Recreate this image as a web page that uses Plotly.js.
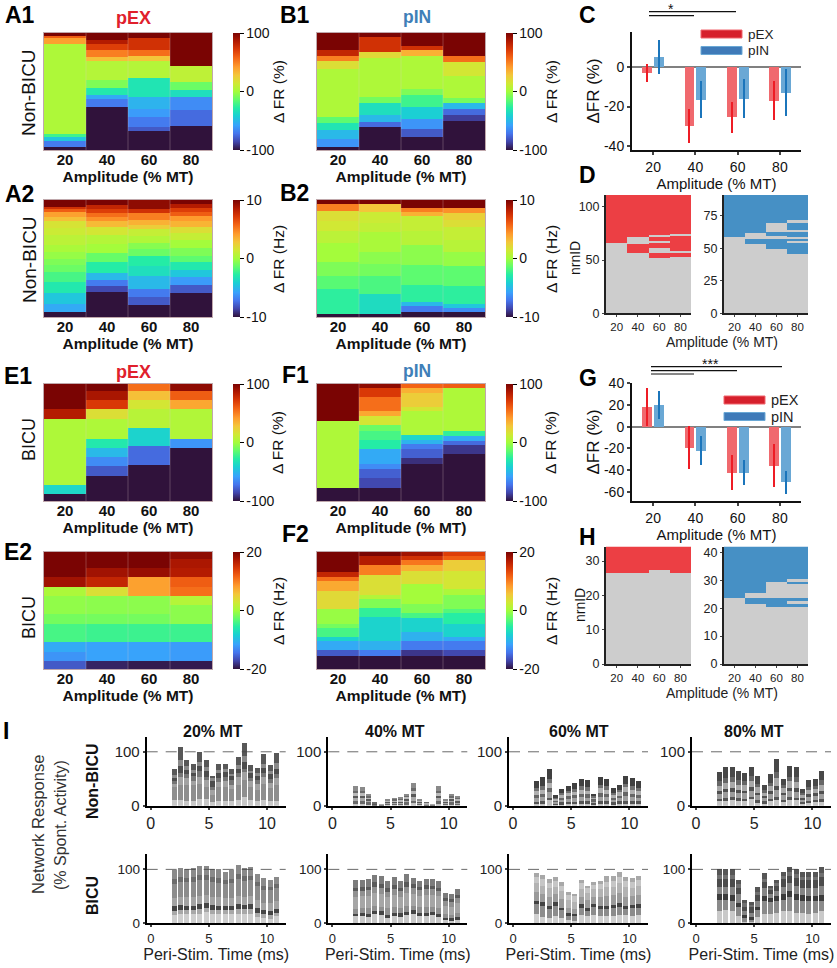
<!DOCTYPE html>
<html>
<head>
<meta charset="utf-8">
<script src="https://cdn.plot.ly/plotly-3.0.1.min.js"></script>
<style>body{margin:0;background:#fff}</style>
</head>
<body>
<div id="plot" style="width:837px;height:968px"></div>
<script>
// Heatmap columns: runs of [rows, value] from top to bottom, 88 rows per column
const amplitudes = [20, 40, 60, 80]

const a1Runs = [
  [[2,100],[2,60],[4,40],[68,3],[2,-22],[3,-45],[5,-70],[2,-100]],
  [[5,100],[3,85],[5,70],[5,50],[3,30],[14,5],[6,-8],[6,-30],[3,-55],[6,-70],[32,-100]],
  [[4,100],[9,75],[4,55],[4,28],[13,5],[14,-32],[9,-52],[6,-60],[8,-70],[3,-80],[14,-100]],
  [[25,100],[12,8],[6,-12],[5,-35],[10,-65],[12,-75],[18,-100]]
]
const a2Runs = [
  [[5,10],[2,7.5],[2,6],[4,4],[3,3],[5,1.6],[5,1.2],[8,0.7],[5,0.2],[5,-0.3],[5,-0.8],[5,-1.2],[8,-2],[8,-3],[8,-4.5],[6,-5.5],[4,-10]],
  [[4,10],[3,8],[3,7],[3,5.5],[3,4.5],[4,3.2],[6,1.5],[7,0.5],[7,0],[7,-1.3],[8,-2.8],[5,-5],[5,-7],[4,-8.5],[19,-10]],
  [[7,9.5],[3,7.5],[5,5],[4,3.5],[3,2.5],[5,1],[5,0.4],[5,-0.6],[5,-1.2],[8,-2.8],[7,-3.5],[10,-5],[6,-7],[6,-8],[9,-10]],
  [[3,10],[3,8.5],[3,7],[3,6],[4,4.2],[4,3.4],[5,1.8],[5,1],[6,0],[6,-0.8],[5,-1.5],[6,-3],[5,-4.5],[6,-6],[6,-8],[18,-10]]
]
const b1Runs = [
  [[13,100],[4,80],[4,50],[6,18],[36,3],[5,-15],[5,-32],[7,-50],[6,-62],[2,-100]],
  [[3,100],[11,75],[5,20],[29,3],[5,-10],[9,-35],[5,-50],[4,-75],[17,-100]],
  [[10,100],[3,75],[4,35],[25,3],[5,-8],[9,-22],[9,-42],[7,-62],[6,-80],[10,-100]],
  [[17,100],[5,55],[10,15],[17,3],[4,-10],[4,-50],[5,-75],[4,-88],[22,-100]]
]
const b2Runs = [
  [[3,10],[5,5],[8,1.8],[7,1.4],[9,0.7],[15,0],[10,-0.8],[10,-1.6],[19,-2.6],[2,-10]],
  [[3,10],[6,2.8],[8,1.2],[7,0.9],[15,0.2],[9,-0.5],[9,-1],[14,-1.9],[15,-3.6],[2,-10]],
  [[6,10],[3,5],[3,3.5],[11,1],[11,0.6],[15,-0.5],[15,-1.5],[13,-2.6],[3,-5],[4,-7],[4,-10]],
  [[6,10],[4,4.5],[5,2.4],[5,1.8],[10,1],[9,0.6],[11,-0.3],[15,-1.5],[13,-2.6],[3,-4.5],[3,-6.5],[4,-10]]
]
const e1Runs = [
  [[19,100],[7,85],[50,3],[7,-38],[5,-100]],
  [[5,100],[7,88],[7,72],[7,18],[15,3],[7,-30],[7,-50],[7,-65],[7,-80],[19,-100]],
  [[5,55],[7,30],[7,15],[14,6],[14,-40],[14,-75],[27,-100]],
  [[5,95],[7,60],[7,38],[22,4],[7,-62],[40,-100]]
]
const e2Runs = [
  [[19,20],[7,18],[7,0.5],[14,-0.8],[7,-2],[14,-4],[7,-11],[7,-12.5],[6,-16]],
  [[12,20],[7,18],[7,16],[7,3.5],[14,-1],[7,-2],[14,-4.5],[14,-11.5],[6,-19]],
  [[12,20],[7,18.5],[14,8],[14,-1],[7,-2],[14,-4.5],[14,-11.5],[6,-19.5]],
  [[5,19],[7,17.5],[7,17],[7,12],[7,11],[7,1],[14,-1],[14,-4.5],[14,-12],[6,-19.5]]
]
const f1Runs = [
  [[28,100],[50,3],[10,-100]],
  [[3,95],[7,72],[10,55],[4,38],[7,15],[4,-12],[7,-20],[7,-28],[11,-55],[4,-65],[7,-78],[7,-85],[10,-100]],
  [[3,58],[4,35],[10,25],[3,15],[18,3],[4,-38],[3,-52],[4,-70],[7,-78],[4,-92],[28,-100]],
  [[3,60],[32,3],[4,-25],[4,-55],[3,-75],[7,-90],[35,-100]]
]
const f2Runs = [
  [[15,20],[4,16],[3,11],[7,7.5],[14,4],[11,-0.5],[3,-2],[7,-4],[3,-8],[7,-11],[4,-16],[10,-20]],
  [[3,20],[7,17],[7,10],[15,3.5],[3,1],[7,-1.5],[7,-5],[18,-8],[7,-10.5],[4,-14],[10,-20]],
  [[3,18],[3,15],[4,10.5],[4,7],[10,3.5],[15,0],[7,-1.5],[4,-4],[10,-8],[7,-10.5],[7,-14],[4,-18],[10,-20]],
  [[3,14],[3,12],[8,5],[14,3],[4,0.5],[11,-1.5],[3,-3.5],[8,-5.5],[10,-8],[3,-11],[7,-14],[4,-17],[10,-20]]
]

// Mean change in firing rate and error, panels C and G
const cPex = [-3, -30, -25.5, -17]
const cPexErr = [4.5, 8.7, 8, 10]
const cPin = [5, -16.5, -16, -13]
const cPinErr = [8.7, 9.5, 9.7, 12]
const gPex = [18.5, -19.5, -42.5, -36]
const gPexErr = [17.5, 20, 16, 20]
const gPin = [20, -22, -42.5, -51.5]
const gPinErr = [13, 13, 11.5, 10.5]

// Neuron response maps: runs of [rows, responding] from top to bottom
const dPexRuns = [
  [[46,1],[66,0]],
  [[40,1],[7,0],[8,1],[57,0]],
  [[38,1],[2,0],[4,1],[2,0],[4,1],[5,0],[5,1],[52,0]],
  [[37,1],[2,0],[14,1],[2,0],[4,1],[53,0]]
]
const dPinRuns = [
  [[33,1],[59,0]],
  [[30,1],[4,0],[4,1],[54,0]],
  [[22,1],[7,0],[3,1],[2,0],[8,1],[50,0]],
  [[20,1],[2,0],[5,1],[2,0],[4,1],[1,0],[2,1],[1,0],[9,1],[46,0]]
]
const hPexRuns = [
  [[8,1],[27,0]],
  [[8,1],[27,0]],
  [[7,1],[28,0]],
  [[8,1],[27,0]]
]
const hPinRuns = [
  [[19,1],[24,0]],
  [[17,1],[2,0],[2,1],[22,0]],
  [[13,1],[6,0],[3,1],[21,0]],
  [[12,1],[1,0],[1,1],[5,0],[1,1],[1,0],[1,1],[21,0]]
]

// Panel I: time bins, total per bin and stacked bands (bottom up, top band is what is left)
const timeBins = [2, 2.55, 3.1, 3.65, 4.2, 4.75, 5.3, 5.85, 6.4, 6.95, 7.5, 8.05, 8.6, 9.15, 9.7, 10.25, 10.8]

const nb20Total = [69,109,84,77,100,84,56,77,78,69,91,116,75,70,96,75,97]
const nb20Bands = [[10,24,6,8,3,6],[10,28,16,6,14,10],[9,30,12,8,8,6],[9,30,6,10,6,6],[12,28,14,10,10,8],[12,22,14,6,10,8],[7,12,10,6,10,6],[8,26,10,8,8,6],[8,26,12,8,8,6],[9,22,8,8,8,4],[10,28,16,6,8,8],[16,32,14,6,14,10],[10,24,12,6,8,5],[9,20,12,6,8,5],[10,30,14,6,10,8],[8,24,10,8,8,7],[9,30,12,8,10,10]]
const nb20Greys = ['#c8c8c8','#8e8e8e','#a2a2a2','#757575','#4d4d4d','#8a8a8a','#585858']

const nb40Total = [36,34,22,6,3,12,14,16,22,42,12,7,3,36,12,21,17]
const nb40Bands = [[4,4,6,4,6,4],[3,5,6,4,6,4],[3,3,4,3,3,3],[1,1,1,1,1,1],[1,1,1,0,0,0],[2,2,2,2,2,1],[2,2,2,2,3,2],[2,2,3,2,3,2],[3,3,4,3,4,3],[5,4,7,5,7,5],[2,2,2,2,2,1],[1,1,2,1,1,1],[1,1,1,0,0,0],[4,4,6,4,6,4],[2,2,2,2,2,1],[3,3,4,3,3,3],[2,2,3,3,3,2]]
const nb40Greys = ['#c4c4c4','#6a6a6a','#a8a8a8','#585858','#bababa','#6a6a6a','#8a8a8a']

const nb60Total = [46,53,68,19,31,36,42,50,47,22,53,50,32,39,56,51,45]
const nb60Bands = [[3,4,7,6,7,6],[3,5,8,6,8,7],[10,5,10,7,10,8],[2,3,3,2,3,2],[2,4,5,4,5,4],[3,4,6,5,6,4],[3,4,7,5,7,5],[3,5,8,6,8,6],[3,5,7,6,7,6],[3,3,3,3,4,3],[3,5,9,6,9,6],[3,5,8,6,8,6],[2,4,5,4,5,4],[3,5,6,4,7,4],[4,5,9,7,9,7],[3,5,8,6,8,6],[3,5,7,5,8,5]]
const nb60Greys = ['#c0c0c0','#555555','#a0a0a0','#666666','#b0b0b0','#707070','#404040']

const nb80Total = [62,71,72,64,61,72,55,39,59,87,50,73,72,31,48,50,64]
const nb80Bands = [[8,5,9,5,10,8],[9,5,11,6,12,9],[11,5,10,6,12,9],[9,5,10,5,10,8],[8,5,10,5,10,7],[12,5,11,6,12,9],[5,5,9,5,10,7],[4,4,6,4,6,5],[8,5,9,5,9,7],[10,6,14,7,15,10],[7,4,8,5,8,6],[10,6,11,6,12,9],[10,5,11,6,12,9],[4,3,5,3,5,4],[5,4,8,4,8,6],[6,4,8,5,8,6],[7,5,10,6,11,8]]
const nb80Greys = ['#c6c6c6','#555555','#9c9c9c','#505050','#a8a8a8','#666666','#484848']

const bi20Total = [99,103,101,102,106,106,101,100,96,99,109,103,105,91,84,81,86]
const bi20Bands = [[15,8,9,14,27,9],[17,8,9,14,28,9],[17,8,8,15,28,8],[17,7,9,15,28,9],[18,8,9,15,30,9],[21,8,9,14,29,9],[17,8,9,15,28,8],[17,8,8,15,27,9],[17,7,9,14,26,8],[17,8,8,14,28,8],[18,8,9,16,31,9],[18,8,8,15,29,9],[18,8,9,15,30,8],[12,8,8,15,26,8],[10,7,7,14,24,8],[8,8,7,14,24,7],[13,6,8,14,25,7]]
const bi20Greys = ['#cfcfcf','#a8a8a8','#454545','#a3a3a3','#8c8c8c','#6c6c6c','#8a8a8a']

const bi40Total = [80,80,83,90,87,78,85,78,91,84,78,83,83,78,56,54,63]
const bi40Bands = [[13,5,9,22,10,7],[14,6,8,22,10,7],[12,6,10,23,10,7],[18,5,10,24,11,8],[16,6,9,24,11,7],[9,7,12,20,10,7],[14,6,10,23,11,7],[12,7,10,20,10,6],[15,6,11,25,11,8],[17,7,9,21,11,7],[14,6,10,21,10,6],[14,6,10,23,11,7],[15,6,9,23,10,7],[12,6,11,21,10,6],[6,4,8,15,8,6],[5,4,7,15,8,6],[6,5,9,18,8,6]]
const bi40Greys = ['#c9c9c9','#454545','#8f8f8f','#a6a6a6','#909090','#5a5a5a','#7c7c7c']

const bi60Total = [94,90,82,85,76,58,55,80,70,77,79,87,88,96,85,84,88]
const bi60Bands = [[17,18,7,16,16,12],[11,22,6,15,16,12],[9,18,6,16,16,10],[14,19,6,15,14,10],[9,15,5,16,15,10],[6,8,5,10,14,10],[5,8,4,10,13,10],[15,13,7,14,15,10],[14,9,6,15,13,8],[15,15,6,13,14,8],[14,13,6,15,15,9],[14,12,6,18,17,10],[14,14,6,18,16,10],[16,15,7,18,18,12],[15,12,6,16,18,11],[14,14,6,16,16,10],[15,14,6,17,18,10]]
const bi60Greys = ['#d0d0d0','#8c8c8c','#424242','#9a9a9a','#b3b3b3','#c6c6c6','#a8a8a8']

const bi80Total = [100,100,100,80,44,40,68,93,68,80,95,104,101,96,95,96,104]
const bi80Bands = [[22,22,10,14,14,8],[24,20,10,14,14,8],[22,20,10,16,14,8],[14,16,8,16,12,6],[3,6,6,8,8,6],[2,4,6,8,10,4],[12,12,6,12,10,6],[17,24,10,14,12,6],[17,22,8,8,8,2],[20,22,8,10,10,4],[22,22,10,14,14,6],[22,26,12,14,14,8],[20,24,10,16,14,7],[20,22,10,14,14,6],[18,24,8,16,14,6],[20,22,8,16,14,6],[22,20,10,18,16,7]]
const bi80Greys = ['#c9c9c9','#8a8a8a','#3c3c3c','#858585','#4c4c4c','#707070','#565656']

const W = 837, H = 968
const FONT = '"Liberation Sans", Arial, sans-serif'
const RED = '#e0202c', BLUE = '#3f7fb8'

const turbo = [[0,'#30123b'],[0.07,'#4145ab'],[0.14,'#4675ed'],[0.21,'#39a2fc'],[0.29,'#1bcfd4'],[0.36,'#24eca6'],[0.43,'#61fc6c'],[0.5,'#a4fc3b'],[0.57,'#d1e834'],[0.64,'#f3c63a'],[0.71,'#fe9b2d'],[0.79,'#f36315'],[0.86,'#d93806'],[0.93,'#b11901'],[1,'#7a0403']]

var data = []
var shapes = []
var annotations = []
var layout = {
  width: W, height: H,
  margin: {l: 0, r: 0, t: 0, b: 0},
  paper_bgcolor: 'white', plot_bgcolor: 'white',
  showlegend: false, barmode: 'stack',
  font: {family: FONT, color: '#111'},
  shapes: shapes, annotations: annotations
}
var axisCount = 0

// new x/y axis pair placed by pixel box; returns the trace refs
function addAxes(x0, x1, y0, y1, xOpts, yOpts) {
  axisCount++
  const n = axisCount === 1 ? '' : axisCount
  layout['xaxis' + n] = Object.assign({domain: [x0 / W, x1 / W], anchor: 'y' + n, fixedrange: true, showgrid: false, zeroline: false}, xOpts)
  layout['yaxis' + n] = Object.assign({domain: [1 - y1 / H, 1 - y0 / H], anchor: 'x' + n, fixedrange: true, showgrid: false, zeroline: false}, yOpts)
  return {x: 'x' + n, y: 'y' + n}
}

function text(str, x, y, size, opts) {
  annotations.push(Object.assign({text: str, x: x / W, y: 1 - y / H, xref: 'paper', yref: 'paper', showarrow: false,
    xanchor: 'center', yanchor: 'middle', font: {size: size, family: FONT, color: '#111'}}, opts))
}

// expands [rows, value] runs into z rows, bottom row first
function runsToZ(runs) {
  const cols = runs.map(function (col) {
    var out = []
    col.forEach(function (r) { for (var i = 0; i < r[0]; i++) out.push(r[1]) })
    return out.reverse()
  })
  return cols[0].map(function (_, i) { return cols.map(function (c) { return c[i] }) })
}

function heatPanel(runs, x0, y0, limit, cbTitle) {
  const x1 = x0 + 168, y1 = y0 + 117
  const ax = addAxes(x0, x1, y0, y1, {
    range: [10, 90], tickvals: amplitudes, ticks: '', showline: true, mirror: true, linecolor: '#c0a8ac', linewidth: 1,
    ticklabelstandoff: -4,
    tickfont: {size: 15, family: FONT, weight: 'bold', color: '#111'},
    title: {text: 'Amplitude (% MT)', standoff: 0, font: {size: 15.5, family: FONT, weight: 'bold', color: '#111'}}
  }, {
    range: [-0.5, 87.5], showticklabels: false, ticks: '', showline: true, mirror: true, linecolor: '#c0a8ac', linewidth: 1
  })
  data.push({
    type: 'heatmap', x: amplitudes, z: runsToZ(runs), y0: 0, dy: 1, xaxis: ax.x, yaxis: ax.y,
    colorscale: turbo, zmin: -limit, zmax: limit, hoverinfo: 'skip',
    colorbar: {
      x: (x1 + 21) / W, xanchor: 'left', xpad: 0, y: 1 - (y0 + 58.5) / H, yanchor: 'middle', ypad: 0,
      len: 117 / H, lenmode: 'fraction', thickness: 7, outlinewidth: 0,
      tickvals: [-limit, 0, limit], ticktext: [String(-limit), '0', String(limit)], ticks: 'outside', ticklen: 4, tickcolor: '#000',
      tickfont: {size: 14, family: FONT, color: '#111'}
    }
  })
  // thin pale lines between amplitude columns
  ;[30, 50, 70].forEach(function (v) {
    shapes.push({type: 'line', xref: ax.x, yref: ax.y + ' domain', x0: v, x1: v, y0: 0, y1: 1, line: {color: 'rgba(225,205,205,0.35)', width: 0.8}})
  })
  text('Δ FR (' + (cbTitle) + ')', x1 + 66, y0 + 59, 15.5, {textangle: -90})
}

function barPanel(pex, pexErr, pin, pinErr, y0, y1, yRange, yTicks) {
  const ax = addAxes(632, 801, y0, y1, {
    range: [10, 90], tickvals: amplitudes, ticks: 'outside', ticklen: 3, tickwidth: 1.5, showline: true, linecolor: '#111', linewidth: 2,
    tickfont: {size: 14, family: FONT, color: '#111'},
    title: {text: 'Amplitude (% MT)', standoff: 5, font: {size: 15, family: FONT, color: '#111'}}
  }, {
    range: yRange, tickvals: yTicks, ticktext: yTicks.map(String), ticks: 'outside', ticklen: 3, tickwidth: 1.5, showline: true, linecolor: '#111', linewidth: 2,
    zeroline: true, zerolinecolor: '#808080', zerolinewidth: 1.5,
    tickfont: {size: 14, family: FONT, color: '#111'},
    title: {text: 'ΔFR (%)', standoff: 0, font: {size: 17, family: FONT, color: '#111'}}
  })
  function group(vals, errs, shift, fill, errColor) {
    data.push({
      type: 'bar', x: amplitudes.map(function (a) { return a + shift }), y: vals, width: 4.7, xaxis: ax.x, yaxis: ax.y,
      marker: {color: fill, line: {width: 0}}, hoverinfo: 'skip',
      error_y: {type: 'data', array: errs, visible: true, color: errColor, thickness: 2, width: 0}
    })
  }
  group(pex, pexErr, -2.8, '#f0696e', '#ee1c25')
  group(pin, pinErr, 2.8, '#6aa8d5', '#1b75bb')
}

function legendKey(x, y, fill, edge, label, size) {
  shapes.push({type: 'rect', xref: 'paper', yref: 'paper', x0: x / W, x1: (x + 41) / W, y0: 1 - y / H, y1: 1 - (y + 8) / H, fillcolor: fill, line: {color: edge, width: 1}})
  text(label, x + 45, y + 4, size, {xanchor: 'left', font: {size: size, family: FONT, color: '#222'}})
}

function sigLine(x0, x1, y) {
  shapes.push({type: 'line', xref: 'paper', yref: 'paper', x0: x0 / W, x1: x1 / W, y0: 1 - y / H, y1: 1 - y / H, line: {color: '#111', width: 1.2}})
}

function rasterPanel(runs, x0, x1, y0, y1, top, yTicks, color) {
  const ax = addAxes(x0, x1, y0, y1, {
    range: [10, 90], tickvals: amplitudes, ticks: 'outside', ticklen: 2, showline: true, linecolor: '#222', linewidth: 2,
    tickfont: {size: 11.5, family: FONT, color: '#222'}
  }, {
    range: [0, top], tickvals: yTicks, ticks: 'outside', ticklen: 2, showline: true, linecolor: '#222', linewidth: 2,
    tickfont: {size: 12.5, family: FONT, color: '#222'}
  })
  data.push({
    type: 'heatmap', x: amplitudes, z: runsToZ(runs), y0: 0, dy: 1, xaxis: ax.x, yaxis: ax.y, showscale: false,
    colorscale: [[0, '#cdcdcd'], [1, color]], zmin: 0, zmax: 1, hoverinfo: 'skip'
  })
}

function responsePanel(total, bands, greys, x0, y0, big, withTitle) {
  const ax = addAxes(x0, x0 + 139, y0, y0 + 69, {
    range: [-0.35, 11.6], tickvals: [0, 5, 10], ticks: 'outside', ticklen: 2, tickwidth: 1.5, showline: true, linecolor: '#000', linewidth: 2,
    tickfont: {size: big ? 16 : 13, family: FONT, color: '#222'},
    title: withTitle ? {text: 'Peri-Stim. Time (ms)', standoff: 3, font: {size: 16, family: FONT, color: '#222'}} : undefined
  }, {
    range: [0, 128], tickvals: [0, 100], ticks: 'outside', ticklen: 2, tickwidth: 1.5, showline: true, linecolor: '#000', linewidth: 2,
    tickfont: {size: big ? 15 : 13.5, family: FONT, color: '#222'}
  })
  // bands in order, the last one takes what is left of the total
  greys.forEach(function (grey, b) {
    const y = total.map(function (t, i) {
      if (b < bands[i].length) return bands[i][b]
      const used = bands[i].reduce(function (s, v) { return s + v }, 0)
      return Math.max(0, t - used)
    })
    data.push({type: 'bar', x: timeBins, y: y, width: 0.43, xaxis: ax.x, yaxis: ax.y, marker: {color: grey, line: {width: 0}}, hoverinfo: 'skip'})
  })
  shapes.push({type: 'line', xref: ax.x + ' domain', yref: ax.y, x0: 0, x1: 1, y0: 100, y1: 100, line: {color: '#444', width: 0.8, dash: '11px,8px'}})
}

// top-left heatmaps
heatPanel(a1Runs, 44, 33, 100, '%')
heatPanel(a2Runs, 44, 200, 10, 'Hz')
heatPanel(b1Runs, 317, 33, 100, '%')
heatPanel(b2Runs, 317, 200, 10, 'Hz')
heatPanel(e1Runs, 44, 384, 100, '%')
heatPanel(e2Runs, 44, 552, 20, 'Hz')
heatPanel(f1Runs, 317, 384, 100, '%')
heatPanel(f2Runs, 317, 552, 20, 'Hz')

// right column
barPanel(cPex, cPexErr, cPin, cPinErr, 32, 150, [-42, 17.7], [-40, -20, 0])
barPanel(gPex, gPexErr, gPin, gPinErr, 383, 501, [-68.6, 40.3], [-60, -40, -20, 0, 20, 40])
legendKey(701, 30, '#d6202c', '#f0656c', 'pEX', 13.5)
legendKey(701, 46.5, '#3f7ab8', '#6aa8d5', 'pIN', 13.5)
legendKey(724, 396, '#d6202c', '#f0656c', 'pEX', 14.5)
legendKey(724, 412.5, '#3f7ab8', '#6aa8d5', 'pIN', 14.5)
sigLine(649, 736, 11.7)
sigLine(649, 694, 15.7)
text('*', 671, 9, 14)
sigLine(651, 782, 366.7)
sigLine(651, 737, 370.7)
sigLine(651, 694, 374)
text('***', 710, 364, 14)

rasterPanel(dPexRuns, 606, 691, 195, 313.3, 111, [0, 50, 100], '#ec3f44')
rasterPanel(dPinRuns, 724, 808, 195, 313.3, 91, [0, 25, 50, 75], '#4690c5')
rasterPanel(hPexRuns, 606, 691, 546.7, 664, 34.2, [0, 10, 20, 30], '#ec3f44')
rasterPanel(hPinRuns, 724, 808, 546.7, 664, 42, [0, 10, 20, 30, 40], '#4690c5')
text('nrnID', 575, 258, 14, {textangle: -90})
text('nrnID', 580, 605, 14, {textangle: -90})
text('Amplitude (% MT)', 722, 342, 14, {font: {size: 14, family: FONT, color: '#222'}})
text('Amplitude (% MT)', 722, 693, 14, {font: {size: 14, family: FONT, color: '#222'}})

// panel I
const colLefts = [146.7, 328.3, 509, 692]
const topRow = [[nb20Total, nb20Bands, nb20Greys], [nb40Total, nb40Bands, nb40Greys], [nb60Total, nb60Bands, nb60Greys], [nb80Total, nb80Bands, nb80Greys]]
const bottomRow = [[bi20Total, bi20Bands, bi20Greys], [bi40Total, bi40Bands, bi40Greys], [bi60Total, bi60Bands, bi60Greys], [bi80Total, bi80Bands, bi80Greys]]
colLefts.forEach(function (left, i) {
  responsePanel(topRow[i][0], topRow[i][1], topRow[i][2], left, 736.7, true, false)
  responsePanel(bottomRow[i][0], bottomRow[i][1], bottomRow[i][2], left, 854.3, false, true)
})
;[['20% MT', 213], ['40% MT', 395], ['60% MT', 579], ['80% MT', 754]].forEach(function (t) {
  text('<b>' + t[0] + '</b>', t[1], 731, 16)
})
text('<b>Non-BICU</b>', 92, 781, 16, {textangle: -90})
text('<b>BICU</b>', 92, 896, 16, {textangle: -90})
text('Network Response', 38, 825, 16.5, {textangle: -90, font: {size: 16.5, family: FONT, color: '#333'}})
text('(% Spont. Activity)', 60, 825, 16, {textangle: -90, font: {size: 16, family: FONT, color: '#333'}})

// panel letters and side labels
;[['A1', 3, 15], ['A2', 3, 194], ['B1', 278, 15], ['B2', 278, 193], ['C', 577, 15], ['D', 577, 175],
  ['E1', 2, 376], ['E2', 2, 552], ['F1', 280, 375], ['F2', 280, 534], ['G', 577, 378], ['H', 577, 537], ['I', 1, 731]].forEach(function (p) {
  text('<b>' + p[0] + '</b>', p[1], p[2], 23, {xanchor: 'left', font: {size: 23, family: FONT, color: '#000'}})
})
text('Non-BICU', 29, 93, 19, {textangle: -90})
text('Non-BICU', 29, 260, 19, {textangle: -90})
text('BICU', 29, 440, 18, {textangle: -90})
text('BICU', 29, 618, 18, {textangle: -90})
text('<b>pEX</b>', 133, 18, 18, {font: {size: 18, family: FONT, color: RED}})
text('<b>pIN</b>', 417, 17, 17.5, {font: {size: 17.5, family: FONT, color: BLUE}})
text('<b>pEX</b>', 133, 372, 18, {font: {size: 18, family: FONT, color: RED}})
text('<b>pIN</b>', 417, 371, 17.5, {font: {size: 17.5, family: FONT, color: BLUE}})

Plotly.newPlot('plot', data, layout, {displayModeBar: false, responsive: false})
</script>
</body>
</html>
